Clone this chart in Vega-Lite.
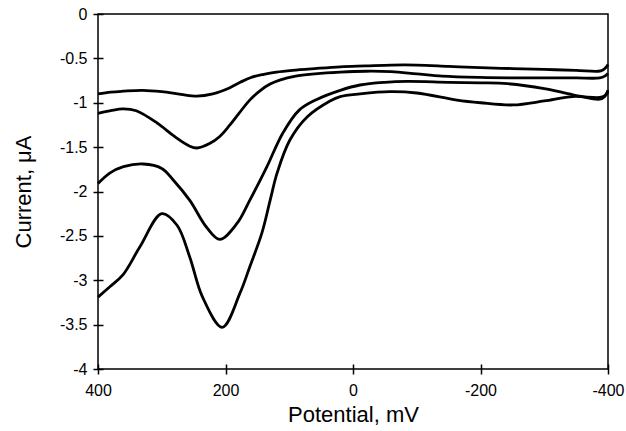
{
  "$schema": "https://vega.github.io/schema/vega-lite/v6.json",
  "autosize": {"type": "none"},
  "padding": {"left": 98, "top": 14, "right": 18, "bottom": 62},
  "width": 510,
  "height": 355,
  "background": "white",
  "config": {
    "font": "Liberation Sans",
    "view": {"stroke": "black", "strokeWidth": 1.5},
    "axis": {"grid": false, "labelColor": "black", "titleColor": "black", "labelFont": "Liberation Sans", "titleFont": "Liberation Sans", "labelFontSize": 16, "titleFontSize": 22, "titleFontWeight": "normal", "labelFlush": false, "labelOverlap": false}
  },
  "data": {"values": [
    {"s":"A","x":400,"y":-0.90},{"s":"A","x":380,"y":-0.88},{"s":"A","x":361,"y":-0.87},{"s":"A","x":330,"y":-0.86},{"s":"A","x":300,"y":-0.875},{"s":"A","x":270,"y":-0.905},{"s":"A","x":245,"y":-0.925},{"s":"A","x":220,"y":-0.90},{"s":"A","x":193,"y":-0.83},{"s":"A","x":177,"y":-0.77},{"s":"A","x":160,"y":-0.715},{"s":"A","x":140,"y":-0.68},{"s":"A","x":120,"y":-0.655},{"s":"A","x":95,"y":-0.635},{"s":"A","x":60,"y":-0.615},{"s":"A","x":20,"y":-0.595},{"s":"A","x":-20,"y":-0.585},{"s":"A","x":-60,"y":-0.575},{"s":"A","x":-100,"y":-0.575},{"s":"A","x":-150,"y":-0.59},{"s":"A","x":-200,"y":-0.605},{"s":"A","x":-250,"y":-0.615},{"s":"A","x":-300,"y":-0.625},{"s":"A","x":-350,"y":-0.635},{"s":"A","x":-385,"y":-0.645},{"s":"A","x":-392,"y":-0.63},{"s":"A","x":-397,"y":-0.60},{"s":"A","x":-400,"y":-0.57},
    {"s":"B","x":400,"y":-1.12},{"s":"B","x":380,"y":-1.09},{"s":"B","x":361,"y":-1.07},{"s":"B","x":340,"y":-1.09},{"s":"B","x":307,"y":-1.23},{"s":"B","x":280,"y":-1.38},{"s":"B","x":256,"y":-1.49},{"s":"B","x":245,"y":-1.51},{"s":"B","x":225,"y":-1.46},{"s":"B","x":209,"y":-1.38},{"s":"B","x":193,"y":-1.25},{"s":"B","x":162,"y":-0.97},{"s":"B","x":145,"y":-0.86},{"s":"B","x":130,"y":-0.79},{"s":"B","x":115,"y":-0.745},{"s":"B","x":90,"y":-0.70},{"s":"B","x":60,"y":-0.675},{"s":"B","x":20,"y":-0.655},{"s":"B","x":-20,"y":-0.645},{"s":"B","x":-60,"y":-0.65},{"s":"B","x":-100,"y":-0.675},{"s":"B","x":-140,"y":-0.70},{"s":"B","x":-200,"y":-0.715},{"s":"B","x":-250,"y":-0.72},{"s":"B","x":-300,"y":-0.72},{"s":"B","x":-350,"y":-0.72},{"s":"B","x":-387,"y":-0.72},{"s":"B","x":-395,"y":-0.70},{"s":"B","x":-400,"y":-0.67},
    {"s":"C","x":400,"y":-1.91},{"s":"C","x":381,"y":-1.79},{"s":"C","x":360,"y":-1.72},{"s":"C","x":329,"y":-1.69},{"s":"C","x":300,"y":-1.74},{"s":"C","x":282,"y":-1.87},{"s":"C","x":256,"y":-2.10},{"s":"C","x":230,"y":-2.40},{"s":"C","x":209,"y":-2.54},{"s":"C","x":182,"y":-2.36},{"s":"C","x":162,"y":-2.10},{"s":"C","x":135,"y":-1.72},{"s":"C","x":110,"y":-1.34},{"s":"C","x":84,"y":-1.08},{"s":"C","x":56,"y":-0.96},{"s":"C","x":20,"y":-0.86},{"s":"C","x":-11,"y":-0.80},{"s":"C","x":-50,"y":-0.77},{"s":"C","x":-85,"y":-0.76},{"s":"C","x":-150,"y":-0.77},{"s":"C","x":-200,"y":-0.775},{"s":"C","x":-242,"y":-0.785},{"s":"C","x":-300,"y":-0.84},{"s":"C","x":-345,"y":-0.91},{"s":"C","x":-387,"y":-0.96},{"s":"C","x":-395,"y":-0.93},{"s":"C","x":-400,"y":-0.86},
    {"s":"D","x":400,"y":-3.19},{"s":"D","x":381,"y":-3.07},{"s":"D","x":361,"y":-2.94},{"s":"D","x":334,"y":-2.62},{"s":"D","x":300,"y":-2.25},{"s":"D","x":276,"y":-2.38},{"s":"D","x":256,"y":-2.74},{"s":"D","x":236,"y":-3.19},{"s":"D","x":205,"y":-3.53},{"s":"D","x":177,"y":-3.14},{"s":"D","x":162,"y":-2.85},{"s":"D","x":143,"y":-2.47},{"s":"D","x":130,"y":-2.10},{"s":"D","x":119,"y":-1.79},{"s":"D","x":99,"y":-1.42},{"s":"D","x":72,"y":-1.16},{"s":"D","x":36,"y":-0.98},{"s":"D","x":20,"y":-0.93},{"s":"D","x":-11,"y":-0.90},{"s":"D","x":-58,"y":-0.875},{"s":"D","x":-100,"y":-0.89},{"s":"D","x":-163,"y":-0.97},{"s":"D","x":-200,"y":-1.00},{"s":"D","x":-251,"y":-1.025},{"s":"D","x":-300,"y":-0.98},{"s":"D","x":-345,"y":-0.93},{"s":"D","x":-387,"y":-0.94},{"s":"D","x":-395,"y":-0.92},{"s":"D","x":-400,"y":-0.88}
  ]},
  "mark": {"type": "line", "color": "black", "strokeWidth": 2.8, "interpolate": "catmull-rom"},
  "encoding": {
    "x": {"field": "x", "type": "quantitative", "scale": {"domain": [400, -400], "nice": false}, "axis": {"values": [400, 200, 0, -200, -400], "labelExpr": "'' + datum.value", "title": "Potential, mV", "labelPadding": 8, "titlePadding": 6, "domain": false, "ticks": true, "tickColor": "black", "tickWidth": 1.5, "tickSize": 10, "offset": -5, "zindex": 2}},
    "y": {"field": "y", "type": "quantitative", "scale": {"domain": [-4, 0], "nice": false}, "axis": {"values": [0, -0.5, -1, -1.5, -2, -2.5, -3, -3.5, -4], "labelExpr": "'' + datum.value", "title": "Current, μA", "labelPadding": 6, "titlePadding": 24, "domain": false, "ticks": true, "tickColor": "black", "tickWidth": 1.5, "tickSize": 10, "offset": -5, "zindex": 2}},
    "detail": {"field": "s"}
  }
}
